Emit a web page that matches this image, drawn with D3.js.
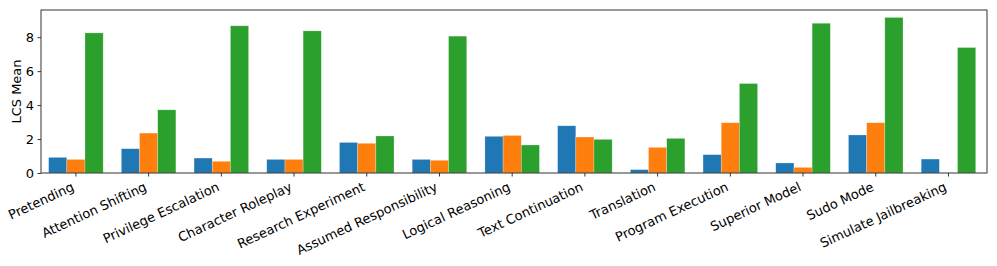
<!DOCTYPE html>
<html>
<head>
<meta charset="utf-8">
<script src="https://cdn.jsdelivr.net/npm/d3@7"></script>
<style>
  body { margin: 0; background: #fff; }
  text { font-family: "DejaVu Sans", sans-serif; }
</style>
</head>
<body>
<script>
const categories = ['Pretending', 'Attention Shifting', 'Privilege Escalation', 'Character Roleplay',
  'Research Experiment', 'Assumed Responsibility', 'Logical Reasoning', 'Text Continuation',
  'Translation', 'Program Execution', 'Superior Model', 'Sudo Mode', 'Simulate Jailbreaking'];
const blueVals   = [0.92, 1.43, 0.88, 0.80, 1.80, 0.80, 2.16, 2.78, 0.20, 1.08, 0.59, 2.24, 0.82];
const orangeVals = [0.80, 2.35, 0.69, 0.80, 1.75, 0.75, 2.21, 2.12, 1.51, 2.96, 0.33, 2.96, 0.00];
const greenVals  = [8.25, 3.72, 8.67, 8.37, 2.18, 8.06, 1.65, 1.98, 2.04, 5.27, 8.82, 9.16, 7.39];
const yTicks = [0, 2, 4, 6, 8];
const colors = ['#1f77b4', '#ff7f0e', '#2ca02c'];

const WIDTH = 997, HEIGHT = 266;
const plotLeft = 41, plotRight = 987, plotTop = 10, plotBottom = 173;
const barW = 0.25;
const FONT = '13px';

const series = [blueVals, orangeVals, greenVals];

let x = d3.scaleLinear().domain([-0.48, 12.53]).range([plotLeft, plotRight]);
let y = d3.scaleLinear().domain([0, 9.6]).range([plotBottom, plotTop]);

let svg = d3.select('body').append('svg')
  .attr('width', WIDTH)
  .attr('height', HEIGHT);

// bars
series.forEach((vals, s) => {
  svg.append('g').selectAll('rect')
    .data(vals)
    .enter()
    .append('rect')
    .attr('x', (d, i) => x(i + (s - 1.5) * barW))
    .attr('y', d => y(d))
    .attr('width', x(barW) - x(0))
    .attr('height', d => y(0) - y(d))
    .attr('fill', colors[s])
    .attr('stroke', '#fff')
    .attr('stroke-opacity', 0.4)
    .attr('stroke-width', 0.6);
});

// y axis
let yAxis = d3.axisLeft(y).tickValues(yTicks).tickSize(3.5).tickPadding(3.5).tickFormat(d3.format('d'));
let gy = svg.append('g').attr('transform', `translate(${plotLeft},0)`).call(yAxis);
gy.select('.domain').remove();
gy.selectAll('text').attr('font-size', FONT).attr('font-family', 'DejaVu Sans').attr('fill', '#000');
gy.selectAll('line').attr('stroke', '#000').attr('stroke-width', 0.8);

// x axis ticks
let gx = svg.append('g').attr('transform', `translate(0,${plotBottom})`);
gx.selectAll('line')
  .data(categories)
  .enter()
  .append('line')
  .attr('x1', (d, i) => x(i))
  .attr('x2', (d, i) => x(i))
  .attr('y1', 0)
  .attr('y2', 3.5)
  .attr('stroke', '#000')
  .attr('stroke-width', 0.8);

svg.append('g').selectAll('text')
  .data(categories)
  .enter()
  .append('text')
  .text(d => d)
  .attr('x', (d, i) => x(i) - 1)
  .attr('y', 190)
  .attr('transform', (d, i) => `rotate(-25,${x(i) - 1},190)`)
  .attr('font-size', FONT)
  .attr('text-anchor', 'end')
  .attr('fill', '#000');

// frame
svg.append('rect')
  .attr('x', plotLeft)
  .attr('y', plotTop)
  .attr('width', plotRight - plotLeft)
  .attr('height', plotBottom - plotTop)
  .attr('fill', 'none')
  .attr('stroke', '#333')
  .attr('stroke-width', 1);

// y label
svg.append('text')
  .text('LCS Mean')
  .attr('transform', `translate(16,${(plotTop + plotBottom) / 2}) rotate(-90)`)
  .attr('text-anchor', 'middle')
  .attr('dy', '0.35em')
  .attr('font-size', FONT)
  .attr('fill', '#000');
</script>
</body>
</html>
